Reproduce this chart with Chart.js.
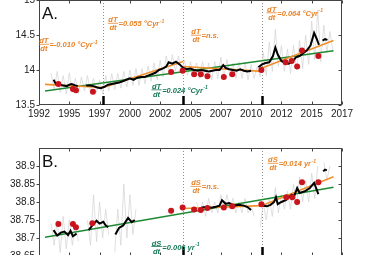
<!DOCTYPE html>
<html>
<head>
<meta charset="utf-8">
<script src="https://cdn.jsdelivr.net/npm/chart.js@4.4.1/dist/chart.umd.min.js"></script>
<style>
  html, body { margin: 0; padding: 0; background: #fff; overflow: hidden; }
  #wrap { position: relative; width: 380px; height: 255px; overflow: hidden; }
  canvas { position: absolute; left: 0; }
  #chartA { top: -20px; }
  #chartB { top: 128px; }
</style>
</head>
<body>
<div id="wrap">
  <canvas id="chartA" width="380" height="150"></canvas>
  <canvas id="chartB" width="380" height="153"></canvas>
</div>
<script>
// shared x axis (decimal years)
const xTickValues = [1992.5, 1995, 1997.5, 2000, 2002.5, 2005, 2007.5, 2010, 2012.5, 2015, 2017.5];
const xTickLabels = ['1992', '1995', '1997', '2000', '2002', '2005', '2007', '2010', '2012', '2015', '2017'];
const breakYears = [1997.8, 2004.4, 2010.9];

// ---- panel A : temperature ----
const yTicksA = [13.5, 14, 14.5, 15];
const yTickLabelsA = ['13.5', '14', '14.5', '15'];

// raw series (grey), one value every quarter year from 1993.5
const grayStartA = 1993.5;
const grayValsA = [
  13.95, 13.72, 13.98, 13.68, 13.92, 13.66, 13.96, 13.68, 13.88, 13.66,
  13.90, 13.70, 13.92, 13.68, 13.88, 13.68, 13.86, 13.66, 13.92, 13.70,
  13.95, 13.72, 13.95, 13.74, 13.98, 13.76, 14.00, 13.78, 14.02, 13.78,
  14.02, 13.80, 14.06, 13.84, 14.10, 13.86, 14.14, 13.90, 14.20, 13.96,
  14.22, 13.98, 14.20, 13.98, 14.14, 13.92, 14.12, 13.90, 14.10, 13.88,
  14.12, 13.88, 14.10, 13.86, 14.12, 13.88, 14.18, 13.90, 14.15, 13.90,
  14.10, 13.88, 14.12, 13.88, 14.10, 13.86, 14.08, 13.88, 14.05, 13.90,
  14.25, 13.92, 14.40, 13.98, 14.58, 14.05, 14.35, 13.98, 14.30, 13.95,
  14.35, 14.00, 14.42, 14.02, 14.50, 14.08, 14.70, 14.15, 14.86, 14.12,
  14.64, 14.25, 14.55, 14.28
];

// smoothed series (black), null = gap
const blackYearsA = [
  1993.7, 1993.9, 1994.2, 1994.5, 1994.8, 1995.0, 1995.2, 1995.5, 1995.7, 1996.0,
  1996.4, 1996.7, 1997.0, 1997.3, 1997.6, 1997.9, 1998.2, 1998.5, 1998.8, 1999.1,
  1999.4, 1999.7, 2000.0, 2000.3, 2000.6, 2000.9, 2001.2, 2001.5, 2001.8, 2002.1,
  2002.4, 2002.7, 2003.0, 2003.2, 2003.5, 2003.8, 2004.1, 2004.4, 2004.7, 2005.0,
  2005.3, 2005.6, 2005.9, 2006.2, 2006.5, 2006.8, 2007.1, 2007.4, 2007.7, 2007.9,
  2008.2, 2008.5, 2008.8, 2009.1, 2009.4, 2009.7, 2010.0, 2010.3,
  2010.6, 2010.9, 2011.2, 2011.5, 2011.8, 2012.0, 2012.2, 2012.5, 2012.8, 2013.1,
  2013.4, 2013.7, 2014.0, 2014.3, 2014.6, 2014.9, 2015.2, 2015.4, 2015.6, 2015.75,
  2015.9, 2016.1, 2016.3
];
const blackValsA = [
  13.86, 13.80, 13.79, 13.78, 13.77, 13.79, 13.80, 13.78, 13.77, null,
  13.78, 13.78, 13.77, 13.75, 13.74, 13.76, 13.79, 13.80, 13.81, 13.82,
  13.84, 13.86, 13.88, 13.86, 13.89, 13.90, 13.90, 13.92, 13.94, 13.96,
  14.00, 14.02, 14.05, 14.11, 14.09, 14.12, 14.08, 14.03, 14.01, 14.02,
  14.00, 13.99, 14.00, 13.99, 13.98, 13.99, 14.00, 14.00, 14.07, 14.03,
  14.01, 14.00, 13.99, 14.01, 13.99, 13.98, 13.99, null,
  14.04, 14.08, 14.10, 14.11, 14.20, 14.32, 14.22, 14.13, 14.10, 14.09,
  14.12, 14.18, 14.20, 14.24, 14.28, 14.35, 14.53, 14.45, 14.36, null,
  14.42, 14.44, 14.43
];

// discrete observations (red)
const dotYearsA = [1994.1, 1995.3, 1995.55, 1996.95, 2003.4, 2004.35, 2005.3, 2005.85, 2006.4,
  2007.75, 2008.45, 2010.85, 2012.85, 2013.35, 2013.8, 2014.2, 2015.55];
const dotValsA = [13.80, 13.73, 13.71, 13.69, 13.97, 13.99, 13.94, 13.94, 13.91,
  13.90, 13.94, 14.00, 14.11, 14.13, 14.05, 14.28, 14.20];

// piecewise trends (orange), pairs of end points
const orangeYearsA = [1993.0, 1997.8, 1997.8, 2004.4, 2004.4, 2010.9, 2010.9, 2016.8];
const orangeValsA = [13.795, 13.75, 13.75, 14.12, 14.05, 13.98, 14.03, 14.42];
// overall trend (green)
const greenYearsA = [1993.0, 2016.8];
const greenValsA = [13.70, 14.275];

// ---- panel B : salinity ----
const yTicksB = [38.65, 38.7, 38.75, 38.8, 38.85, 38.9];
const yTickLabelsB = ['38.65', '38.7', '38.75', '38.8', '38.85', '38.9'];

const grayStartB = 1993.5;
const grayValsB = [
  38.74, 38.68, 38.75, 38.66, 38.76, 38.67, 38.75, 38.68, 38.74, 38.69,
  null, null, 38.75, 38.68, 38.82, 38.69, 38.80, 38.70, 38.78, 38.71,
  null, 38.66, 38.78, 38.68, 38.85, 38.70, 38.82, 38.71, 38.78, null,
  null, null, null, null, null, null, null, null, null, null,
  null, null, null, null, null, null, null, null, 38.80, 38.77,
  38.80, 38.76, 38.81, 38.77, 38.80, 38.77, 38.82, 38.78, 38.82, 38.78,
  38.81, 38.77, 38.80, 38.77, 38.81, 38.77, 38.79, 38.76, null, 38.73,
  38.80, 38.75, 38.81, 38.76, 38.84, 38.77, 38.82, 38.78, 38.83, 38.78,
  38.85, 38.79, 38.87, 38.80, 38.86, 38.80, 38.88, 38.81, 38.90, null,
  38.91, 38.86, 38.90
];

const blackYearsB = [
  1993.7, 1994.0, 1994.3, 1994.6, 1994.9, 1995.1, 1995.3, 1995.6, 1996.0,
  1996.6, 1996.9, 1997.25, 1997.5, 1997.8, 1998.0, 1998.2, 1998.5,
  1998.8, 1999.1, 1999.45, 1999.85, 2000.15, 2000.4, 2003.0,
  2005.9, 2006.3, 2006.7, 2007.1, 2007.4, 2007.6, 2007.9, 2008.2, 2008.6, 2009.0,
  2009.4, 2009.7, 2010.0, 2010.5,
  2010.9, 2011.3, 2011.6, 2011.9, 2012.05, 2012.2, 2012.5, 2012.9, 2013.35, 2013.55,
  2013.8, 2014.0, 2014.45, 2014.85, 2015.2, 2015.35, 2015.55, 2015.75,
  2015.95, 2016.1, 2016.25
];
const blackValsB = [
  38.722, 38.707, 38.715, 38.718, 38.708, 38.720, 38.705, 38.712, null,
  38.722, 38.735, 38.748, 38.740, 38.745, 38.735, 38.730, null,
  38.710, 38.728, 38.735, 38.756, 38.744, 38.750, null,
  38.785, 38.786, 38.784, 38.787, 38.790, 38.805, 38.795, 38.797, 38.790, 38.792,
  38.790, 38.786, 38.778, null,
  38.790, 38.788, 38.792, 38.800, 38.813, 38.794, 38.800, 38.806, 38.820, 38.816,
  38.839, 38.825, 38.830, 38.839, 38.853, 38.840, 38.822, null,
  38.885, 38.890, 38.888
];

const dotYearsB = [1994.1, 1995.3, 1995.55, 1996.9, 2003.4, 2004.35, 2005.3, 2005.85, 2006.4,
  2007.75, 2008.45, 2010.85, 2012.9, 2013.4, 2013.8, 2014.2, 2015.55];
const dotValsB = [38.739, 38.739, 38.730, 38.741, 38.776, 38.785, 38.779, 38.778, 38.783,
  38.785, 38.788, 38.794, 38.813, 38.813, 38.800, 38.855, 38.855];

const orangeYearsB = [2004.4, 2010.9, 2010.9, 2016.8];
const orangeValsB = [38.782, 38.790, 38.790, 38.870];
const greenYearsB = [1993.0, 2016.8];
const greenValsB = [38.702, 38.841];

// colours
const ORANGE = '#f0902c';
const ORANGE_TXT = '#e8842a';
const GREEN = '#1f8a34';
const GREEN_TXT = '#17785a';
const RED = '#c8141c';
const GREY = '#d2d2d2';
const FONT = '"Liberation Sans", Arial, sans-serif';

const notesA = [
  { x: 1992.9, y: 14.36, num: 'dT', text: '=-0.010 °Cyr', sup: '-1', color: ORANGE_TXT },
  { x: 1998.6, y: 14.66, num: 'dT', text: '=0.055 °Cyr', sup: '-1', color: ORANGE_TXT },
  { x: 2005.45, y: 14.49, num: 'dT', text: '=n.s.', sup: '', color: ORANGE_TXT },
  { x: 2011.7, y: 14.81, num: 'dT', text: '=0.064 °Cyr', sup: '-1', color: ORANGE_TXT },
  { x: 2002.2, y: 13.71, num: 'dT', text: '=0.024 °Cyr', sup: '-1', color: GREEN_TXT }
];
const notesB = [
  { x: 2005.45, y: 38.842, num: 'dS', text: '=n.s.', sup: '', color: ORANGE_TXT },
  { x: 2011.8, y: 38.906, num: 'dS', text: '=0.014 yr', sup: '-1', color: ORANGE_TXT },
  { x: 2002.2, y: 38.675, num: 'dS', text: '=0.006 yr', sup: '-1', color: GREEN_TXT }
];

function pts(xs, ys) {
  return xs.map((x, i) => ({ x: x, y: ys[i] }));
}
function evenPts(start, vals) {
  return vals.map((v, i) => ({ x: start + i * 0.25, y: v }));
}
// pairs of end points -> separate segments
function segPts(xs, ys) {
  const out = [];
  for (let i = 0; i < xs.length; i += 2) {
    if (i > 0) out.push({ x: xs[i], y: null });
    out.push({ x: xs[i], y: ys[i] }, { x: xs[i + 1], y: ys[i + 1] });
  }
  return out;
}

function hline(ctx, x1, y1, x2, y2) {
  ctx.beginPath();
  ctx.moveTo(x1, y1);
  ctx.lineTo(x2, y2);
  ctx.stroke();
}

function drawNote(ctx, px, py, n) {
  ctx.save();
  ctx.fillStyle = n.color;
  ctx.strokeStyle = n.color;
  ctx.font = 'bold italic 7.5px ' + FONT;
  ctx.textAlign = 'center';
  ctx.textBaseline = 'alphabetic';
  const w = ctx.measureText(n.num).width + 1;
  ctx.fillText(n.num, px, py - 1.5);
  ctx.fillText('dt', px, py + 6.5);
  ctx.lineWidth = 0.8;
  hline(ctx, px - w / 2, py - 0.5, px + w / 2, py - 0.5);
  ctx.textAlign = 'left';
  ctx.textBaseline = 'middle';
  const tx = px + w / 2 + 0.5;
  ctx.fillText(n.text, tx, py + 0.5);
  if (n.sup) {
    const tw = ctx.measureText(n.text).width;
    ctx.font = 'bold italic 5px ' + FONT;
    ctx.fillText(n.sup, tx + tw + 0.5, py - 2.5);
  }
  ctx.restore();
}

const framePlugin = {
  id: 'frame',
  beforeDatasetsDraw(chart, args, opts) {
    const { ctx, chartArea: a, scales: { x } } = chart;
    ctx.save();
    ctx.strokeStyle = '#8c8c8c';
    ctx.lineWidth = 1;
    ctx.setLineDash([1, 2]);
    opts.dotted.forEach(yr => {
      const px = Math.round(x.getPixelForValue(yr)) + 0.5;
      hline(ctx, px, a.top, px, a.bottom);
    });
    ctx.restore();
  },
  afterDraw(chart, args, opts) {
    const { ctx, chartArea: a, scales: { x, y } } = chart;
    ctx.save();
    ctx.strokeStyle = '#444';
    ctx.lineWidth = 1;
    const L = Math.round(a.left) + 0.5, R = Math.round(a.right) - 0.5;
    const T = Math.round(a.top) + 0.5, B = Math.round(a.bottom) - 0.5;
    ctx.strokeRect(L, T, R - L, B - T);
    // x ticks pointing inwards, top and bottom
    xTickValues.forEach(v => {
      const px = Math.round(x.getPixelForValue(v)) + 0.5;
      hline(ctx, px, B, px, B - 3);
      hline(ctx, px, T, px, T + 3);
    });
    // y ticks: outward on the left, inward on the right
    opts.yTicks.forEach(v => {
      const py = Math.round(y.getPixelForValue(v)) + 0.5;
      hline(ctx, L, py, L - 3, py);
      hline(ctx, R, py, R - 3, py);
    });
    // break markers at the bottom
    ctx.strokeStyle = '#000';
    ctx.lineWidth = 2.5;
    opts.marks.forEach(yr => {
      const px = Math.round(x.getPixelForValue(yr)) + 0.5;
      hline(ctx, px, a.bottom, px, a.bottom - 9);
    });
    // panel letter
    ctx.fillStyle = '#111';
    ctx.font = '17px ' + FONT;
    ctx.textAlign = 'left';
    ctx.textBaseline = 'alphabetic';
    ctx.fillText(opts.letter, a.left + 3, a.top + 19);
    ctx.restore();
    opts.notes.forEach(n => drawNote(ctx, x.getPixelForValue(n.x), y.getPixelForValue(n.y), n));
  }
};

function makeChart(id, d) {
  const tickFont = { family: FONT, size: 10 };
  return new Chart(document.getElementById(id), {
    type: 'line',
    data: {
      datasets: [
        { data: pts(d.dotX, d.dotY), showLine: false, pointRadius: 3, pointBackgroundColor: RED, pointBorderWidth: 0 },
        { data: pts(d.blackX, d.blackY), borderColor: '#000', borderWidth: 2, pointRadius: 0, spanGaps: false },
        { data: segPts(d.orangeX, d.orangeY), borderColor: ORANGE, borderWidth: 1.6, pointRadius: 0, spanGaps: false },
        { data: pts(d.greenX, d.greenY), borderColor: GREEN, borderWidth: 1.6, pointRadius: 0 },
        { data: evenPts(d.grayStart, d.grayY), borderColor: GREY, borderWidth: 0.7, pointRadius: 0, spanGaps: false }
      ]
    },
    options: {
      responsive: false,
      animation: false,
      devicePixelRatio: 1,
      layout: { padding: { left: 0, right: 38, top: 20, bottom: 0 } },
      scales: {
        x: {
          type: 'linear',
          min: 1992.5,
          max: 2017.5,
          afterBuildTicks: s => { s.ticks = xTickValues.map(v => ({ value: v })); },
          afterFit: s => { s.height = 25; },
          grid: { display: false, drawTicks: false },
          border: { display: false },
          ticks: {
            autoSkip: false, maxRotation: 0, padding: 3, color: '#222', font: tickFont,
            callback: (v, i) => xTickLabels[i]
          }
        },
        y: {
          min: d.yMin,
          max: d.yMax,
          afterBuildTicks: s => { s.ticks = d.yTicks.map(v => ({ value: v })); },
          afterFit: s => { s.width = 39; },
          grid: { display: false, drawTicks: false },
          border: { display: false },
          ticks: { padding: 4, color: '#222', font: tickFont, callback: (v, i) => d.yLabels[i] }
        }
      },
      plugins: {
        legend: { display: false },
        tooltip: { enabled: false },
        frame: { dotted: d.dotted, marks: d.marks, letter: d.letter, notes: d.notes, yTicks: d.yTicks }
      }
    },
    plugins: [framePlugin]
  });
}

makeChart('chartA', {
  dotX: dotYearsA, dotY: dotValsA,
  blackX: blackYearsA, blackY: blackValsA,
  orangeX: orangeYearsA, orangeY: orangeValsA,
  greenX: greenYearsA, greenY: greenValsA,
  grayStart: grayStartA, grayY: grayValsA,
  yMin: 13.5, yMax: 15, yTicks: yTicksA, yLabels: yTickLabelsA,
  dotted: breakYears, marks: breakYears, letter: 'A.', notes: notesA
});

makeChart('chartB', {
  dotX: dotYearsB, dotY: dotValsB,
  blackX: blackYearsB, blackY: blackValsB,
  orangeX: orangeYearsB, orangeY: orangeValsB,
  greenX: greenYearsB, greenY: greenValsB,
  grayStart: grayStartB, grayY: grayValsB,
  yMin: 38.65, yMax: 38.95, yTicks: yTicksB, yLabels: yTickLabelsB,
  dotted: breakYears.slice(1), marks: breakYears.slice(1), letter: 'B.', notes: notesB
});
</script>
</body>
</html>
